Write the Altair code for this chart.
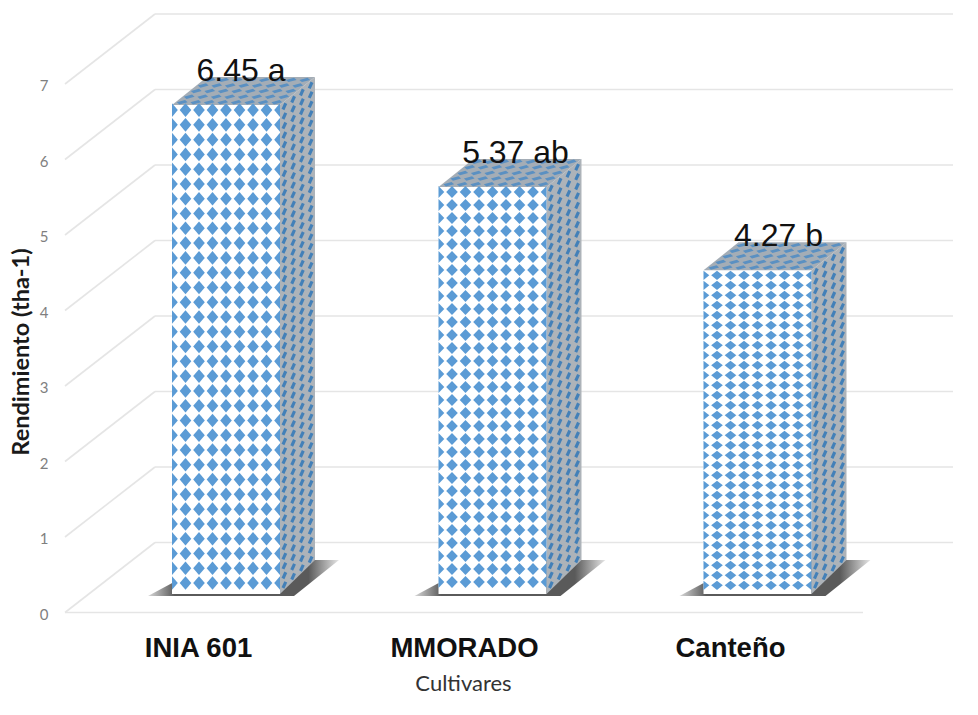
import altair as alt
import pandas as pd

# ---- chart values
categories = ["INIA 601", "MMORADO", "Canteño"]
values = [6.45, 5.37, 4.27]
value_labels = ["6.45 a", "5.37 ab", "4.27 b"]
y_ticks = [0, 1, 2, 3, 4, 5, 6, 7]

# ---- 3-D look (one unit of x = one category step, one unit of y = one axis step)
XU, YU = 266.0, 75.5           # pixels per axis unit
BAR_SHIFT = [28 / XU, 28.5 / XU, 27.5 / XU]
HALF_W = 54 / XU
BASE = 18.5 / YU
STRETCH = 1.004
SIDE_DX = 35 / XU
TOP_DY = 28 / YU
BOTTOM_DY = 34 / YU
WALL_DX = 90 / XU
WALL_DY = 70 / YU
ROW_STEP = [14.78, 13, 10]     # pattern rows, px
ROW_HALF = [6.8, 6.0, 4.6]
LABEL_DX = [15, 23, 21]
LABEL_DY = 34
BLUE = "#5b9bd5"
GRID = "#e5e5e5"

front, side, top_face, shadow, dots, labels = [], [], [], [], [], []

for b, cat in enumerate(categories):
    cx = b + BAR_SHIFT[b]
    x0, x1 = cx - HALF_W, cx + HALF_W
    y0 = BASE
    y1 = BASE + values[b] * STRETCH
    front.append(dict(x=x0, x2=x1, y=y0, y2=y1))
    # side face
    for xx, a, c in [(x1, y0, y1), (x1 + SIDE_DX, y0 + BOTTOM_DY, y1 + TOP_DY)]:
        side.append(dict(id=b, x=xx, y=a, y2=c))
    # top face
    for xx, a, c in [
        (x0, y1, y1),
        (x0 + SIDE_DX, y1, y1 + TOP_DY),
        (x1, y1, y1 + TOP_DY),
        (x1 + SIDE_DX, y1 + TOP_DY, y1 + TOP_DY),
    ]:
        top_face.append(dict(id=b, x=xx, y=a, y2=c))
    # shadow
    sb = y0 - 2 / YU
    st = y0 + 34 / YU
    for xx, a, c in [
        (x0 - 24 / XU, sb, sb),
        (x0 + 43 / XU, sb, st),
        (x1 + 14 / XU, sb, st),
        (x1 + 59 / XU, st, st),
    ]:
        shadow.append(dict(id=b, x=xx, y=a, y2=c))

    # pattern, front face
    step, hh = ROW_STEP[b], ROW_HALF[b]
    hw = 5.8
    full = f"M0,{-hh}L{hw},0L0,{hh}L{-hw},0Z"
    left_half = f"M0,{-hh}L{hw},0L0,{hh}Z"
    right_half = f"M0,{-hh}L0,{hh}L{-hw},0Z"
    nrows = int(((y1 - y0) * YU - hh - 5) // step) + 1
    for i in range(9):
        shape = left_half if i == 0 else right_half if i == 8 else full
        for j in range(nrows):
            dots.append(dict(
                x=x0 + i * (108 / 8) / XU,
                y=y1 - (5 + j * step) / YU,
                shape=shape, color=BLUE))
    # pattern, side face
    sw, sk, sh = 2.8, 0.85, 3.8
    sshape = f"M0,{-sh}L{sw},{-sw * sk}L0,{sh}L{-sw},{sw * sk}Z"
    nside = 4
    srows = int((y1 - y0) * YU // 9.5)
    for i in range(nside):
        u = (i + 0.5) / nside
        yb = y0 + BOTTOM_DY * u
        yt = y1 + TOP_DY * u
        for j in range(srows):
            v = (j + 0.5) / srows
            dots.append(dict(
                x=x1 + SIDE_DX * u, y=yt + (yb - yt) * v,
                shape=sshape, color="#4380b8"))
    # pattern, top face
    nt = 5
    ux, vx, vy = 13.5 * 0.40, 35 / nt * 0.40, 28 / nt * 0.40
    tshape = f"M{-ux},0L{vx},{-vy}L{ux},0L{-vx},{vy}Z"
    for r in range(nt):
        v = (r + 0.5) / nt
        for i in range(8):
            dots.append(dict(
                x=x0 + (i + 0.5) * 13.5 / XU + SIDE_DX * v,
                y=y1 + TOP_DY * v,
                shape=tshape, color="#5a90c2"))
    labels.append(dict(x=cx + LABEL_DX[b] / XU, y=y1 + LABEL_DY / YU, t=value_labels[b]))

dots_front = pd.DataFrame(dots)
xs = alt.Scale(domain=[-0.5, -0.5 + 890 / XU], nice=False, zero=False)
ys = alt.Scale(domain=[0, 8], nice=False, zero=False)
X = lambda f="x": alt.X(f"{f}:Q", scale=xs)
Y = lambda f="y": alt.Y(f"{f}:Q", scale=ys)

# axes live on this layer with the floor line
floor = pd.DataFrame({"x": [-0.5, 2.5], "y": [0, 0]})
base = alt.Chart(floor).mark_line(color=GRID, strokeWidth=1.6).encode(
    x=alt.X("x:Q", scale=xs, axis=alt.Axis(
        values=[0, 1, 2], title="Cultivares", grid=False, domain=False, ticks=False,
        labelExpr="['INIA 601','MMORADO','Canteño'][datum.value]",
        labelFont="Liberation Sans", labelFontWeight="bold", labelFontSize=27.5,
        labelColor="#111111", labelPadding=22,
        titleFont="Lato", titleFontWeight="normal", titleFontSize=22, titleColor="#333333",
        titleX=398, titleY=71, titleAlign="center", titleBaseline="middle")),
    y=alt.Y("y:Q", scale=ys, axis=alt.Axis(
        values=y_ticks, title="Rendimiento (tha-1)", grid=False, domain=False, ticks=False,
        format="d", labelFont="Lato", labelFontSize=15, labelColor="#7f7f7f", labelPadding=17,
        labelOffset=1.5,
        titleFont="Lato", titleFontWeight="bold", titleFontSize=23.5, titleColor="#1a1a1a",
        titleX=-44, titleY=343, titleAlign="center", titleBaseline="middle")),
)

slants = pd.DataFrame(
    [dict(v=v, x=-0.5, y=v) for v in y_ticks]
    + [dict(v=v, x=-0.5 + WALL_DX, y=v + WALL_DY) for v in y_ticks]
)
slant = alt.Chart(slants).mark_line(color=GRID, strokeWidth=1.6).encode(
    x=X(), y=Y(), detail="v:N")

backs = pd.DataFrame([dict(x=-0.5 + WALL_DX, x2=-0.5 + 888 / XU, y=v + WALL_DY) for v in y_ticks])
back = alt.Chart(backs).mark_rule(color=GRID, strokeWidth=1.6).encode(
    x=X(), x2="x2:Q", y=Y())

shadow_l = alt.Chart(pd.DataFrame(shadow)).mark_area(
    color=alt.Gradient(gradient="linear", x1=0, x2=1, y1=0, y2=0, stops=[
        alt.GradientStop(color="#d8d8d8", offset=0),
        alt.GradientStop(color="#5a5a5a", offset=0.14),
        alt.GradientStop(color="#5a5a5a", offset=0.84),
        alt.GradientStop(color="#e6e6e6", offset=1),
    ])
).encode(x=X(), y=Y(), y2="y2:Q", detail="id:N")

front_l = alt.Chart(pd.DataFrame(front)).mark_rect(color="#ffffff").encode(
    x=X(), x2="x2:Q", y=Y(), y2="y2:Q")

side_df = pd.DataFrame(side)
side_l = alt.Chart(side_df).mark_area(color="#adb3b9").encode(x=X(), y=Y(), y2="y2:Q", detail="id:N")
top_df = pd.DataFrame(top_face)
top_l = alt.Chart(top_df).mark_area(color="#a4adb6").encode(x=X(), y=Y(), y2="y2:Q", detail="id:N")

dots_l = alt.Chart(dots_front).mark_point(filled=True, opacity=1, size=4, strokeWidth=0).encode(
    x=X(), y=Y(),
    shape=alt.Shape("shape:N", scale=None),
    color=alt.Color("color:N", scale=None),
)

text_l = alt.Chart(pd.DataFrame(labels)).mark_text(
    font="Liberation Sans", fontSize=32, color="#111111", align="center", baseline="middle"
).encode(x=X(), y=Y(), text="t:N")

chart = alt.layer(base, back, slant, shadow_l, front_l, side_l, top_l, dots_l, text_l).properties(
    width=890, height=604,
    padding={"left": 57, "top": 0.5, "right": 15, "bottom": 94.5},
    autosize=alt.AutoSizeParams(type="none"),
    background="#ffffff",
).configure_view(stroke=None).configure_axis(grid=False)

chart.save("out.html", embed_options={"renderer": "svg", "actions": False})
